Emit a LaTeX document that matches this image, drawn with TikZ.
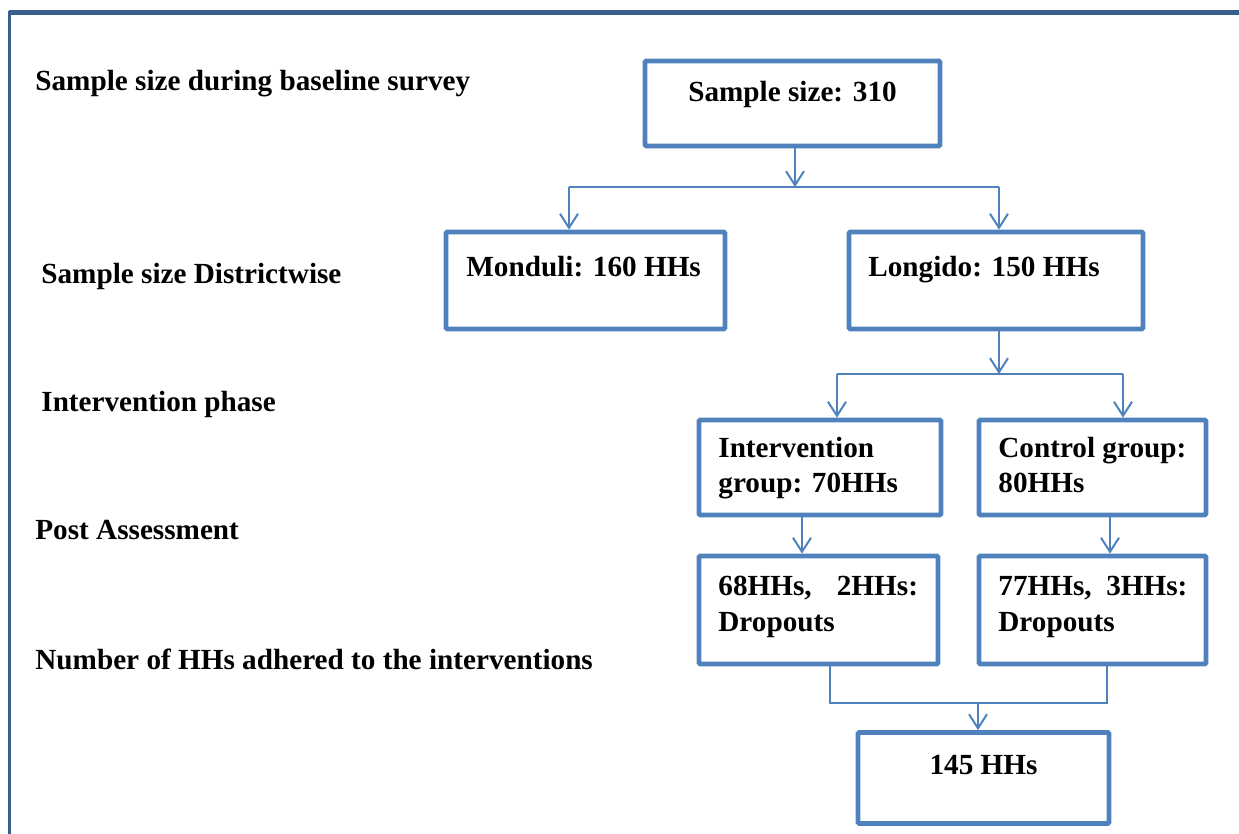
\documentclass[tikz,border=0pt]{standalone}
\usepackage{fontspec}
\setmainfont{Liberation Serif}
\usetikzlibrary{arrows.meta}
\definecolor{boxblue}{HTML}{4F81BD}
\definecolor{framblue}{HTML}{3A5F8E}
\begin{document}
\begin{tikzpicture}[x=0.5pt,y=-0.5pt,
  box/.style={draw=boxblue,line width=2.4pt,rounded corners=0.6pt,minimum width=#1,inner sep=0pt},
  txt/.style={anchor=base west,inner sep=0pt,font=\fontsize{14.6pt}{17.5pt}\selectfont\bfseries},
  ctxt/.style={anchor=base,inner sep=0pt,font=\fontsize{14.6pt}{17.5pt}\selectfont\bfseries},
  conn/.style={draw=boxblue,line width=1pt},
  arr/.style={conn,-{Straight Barb[length=7pt,width=9pt,line width=1pt]}}]
\useasboundingbox (0,0) rectangle (1239,834);
% frame
\draw[framblue,line width=2.5pt] (9,12.5) -- (1239,12.5);
\draw[framblue,line width=1.8pt] (9.5,11) -- (9.5,834);
% left labels
\node[txt] (l1) at (35,91) {Sample size during baseline survey};
\node[txt] (l2) at (41,284) {Sample size Districtwise};
\node[txt] (l3) at (41,412) {Intervention phase};
\node[txt] (l4) at (35,540) {Post Assessment};
\node[txt] (l5) at (35,669) {Number of HHs adhered to the interventions};
% boxes
\node[box=295*0.5pt,minimum height=85*0.5pt] (b1) at (792.5,103.5) {};
\node[box=279*0.5pt,minimum height=97*0.5pt] (mon) at (585.5,280.5) {};
\node[box=294*0.5pt,minimum height=97*0.5pt] (lon) at (996,280.5) {};
\node[box=242*0.5pt,minimum height=95*0.5pt] (int) at (820,467.5) {};
\node[box=227*0.5pt,minimum height=95*0.5pt] (ctl) at (1092.5,467.5) {};
\node[box=239*0.5pt,minimum height=108*0.5pt] (d1) at (818.5,610) {};
\node[box=227*0.5pt,minimum height=108*0.5pt] (d2) at (1092.5,610) {};
\node[box=251*0.5pt,minimum height=91*0.5pt] (fin) at (983.5,778) {};
% box texts
\node[ctxt] (t1) at (792.5,102) {Sample size: 310};
\node[txt] (t2) at (466,277) {Monduli: 160 HHs};
\node[txt] (t3) at (868,277) {Longido: 150 HHs};
\node[txt] (t4a) at (718,458) {Intervention};
\node[txt] (t4b) at (718,493) {group: 70HHs};
\node[txt] (t5a) at (998,458) {Control group:};
\node[txt] (t5b) at (998,493) {80HHs};
\node[txt] (t6a) at (718,596) {68HHs,\hspace{12.6pt}2HHs:};
\node[txt] (t6b) at (718,632) {Dropouts};
\node[txt] (t7a) at (998,596) {77HHs,\hspace{7.3pt}3HHs:};
\node[txt] (t7b) at (998,632) {Dropouts};
\node[ctxt] (t8) at (983.5,774) {145 HHs};
% connectors level 1
\coordinate (j1) at (795,187);
\coordinate (jl) at (569,187);
\coordinate (jr) at (999,187);
\draw[arr] (b1.south -| j1) -- (j1);
\draw[conn] (jl) -- (jr);
\draw[arr] (jl) -- (mon.north -| jl);
\draw[arr] (jr) -- (lon.north -| jr);
% level 2
\coordinate (j2) at (999,374);
\coordinate (j2l) at (837,374);
\coordinate (j2r) at (1123,374);
\draw[arr] (lon.south -| j2) -- (j2);
\draw[conn] (j2l) -- (j2r);
\draw[arr] (j2l) -- (int.north -| j2l);
\draw[arr] (j2r) -- (ctl.north -| j2r);
% level 3
\coordinate (k1) at (802,500);
\coordinate (k2) at (1110,500);
\draw[arr] (int.south -| k1) -- (d1.north -| k1);
\draw[arr] (ctl.south -| k2) -- (d2.north -| k2);
% merge
\coordinate (m1) at (830,703);
\coordinate (m2) at (1107,703);
\coordinate (m0) at (978,703);
\draw[conn] (d1.south -| m1) -- (m1) -- (m2) -- (d2.south -| m2);
\draw[arr] (m0) -- (fin.north -| m0);
\end{tikzpicture}
\end{document}
